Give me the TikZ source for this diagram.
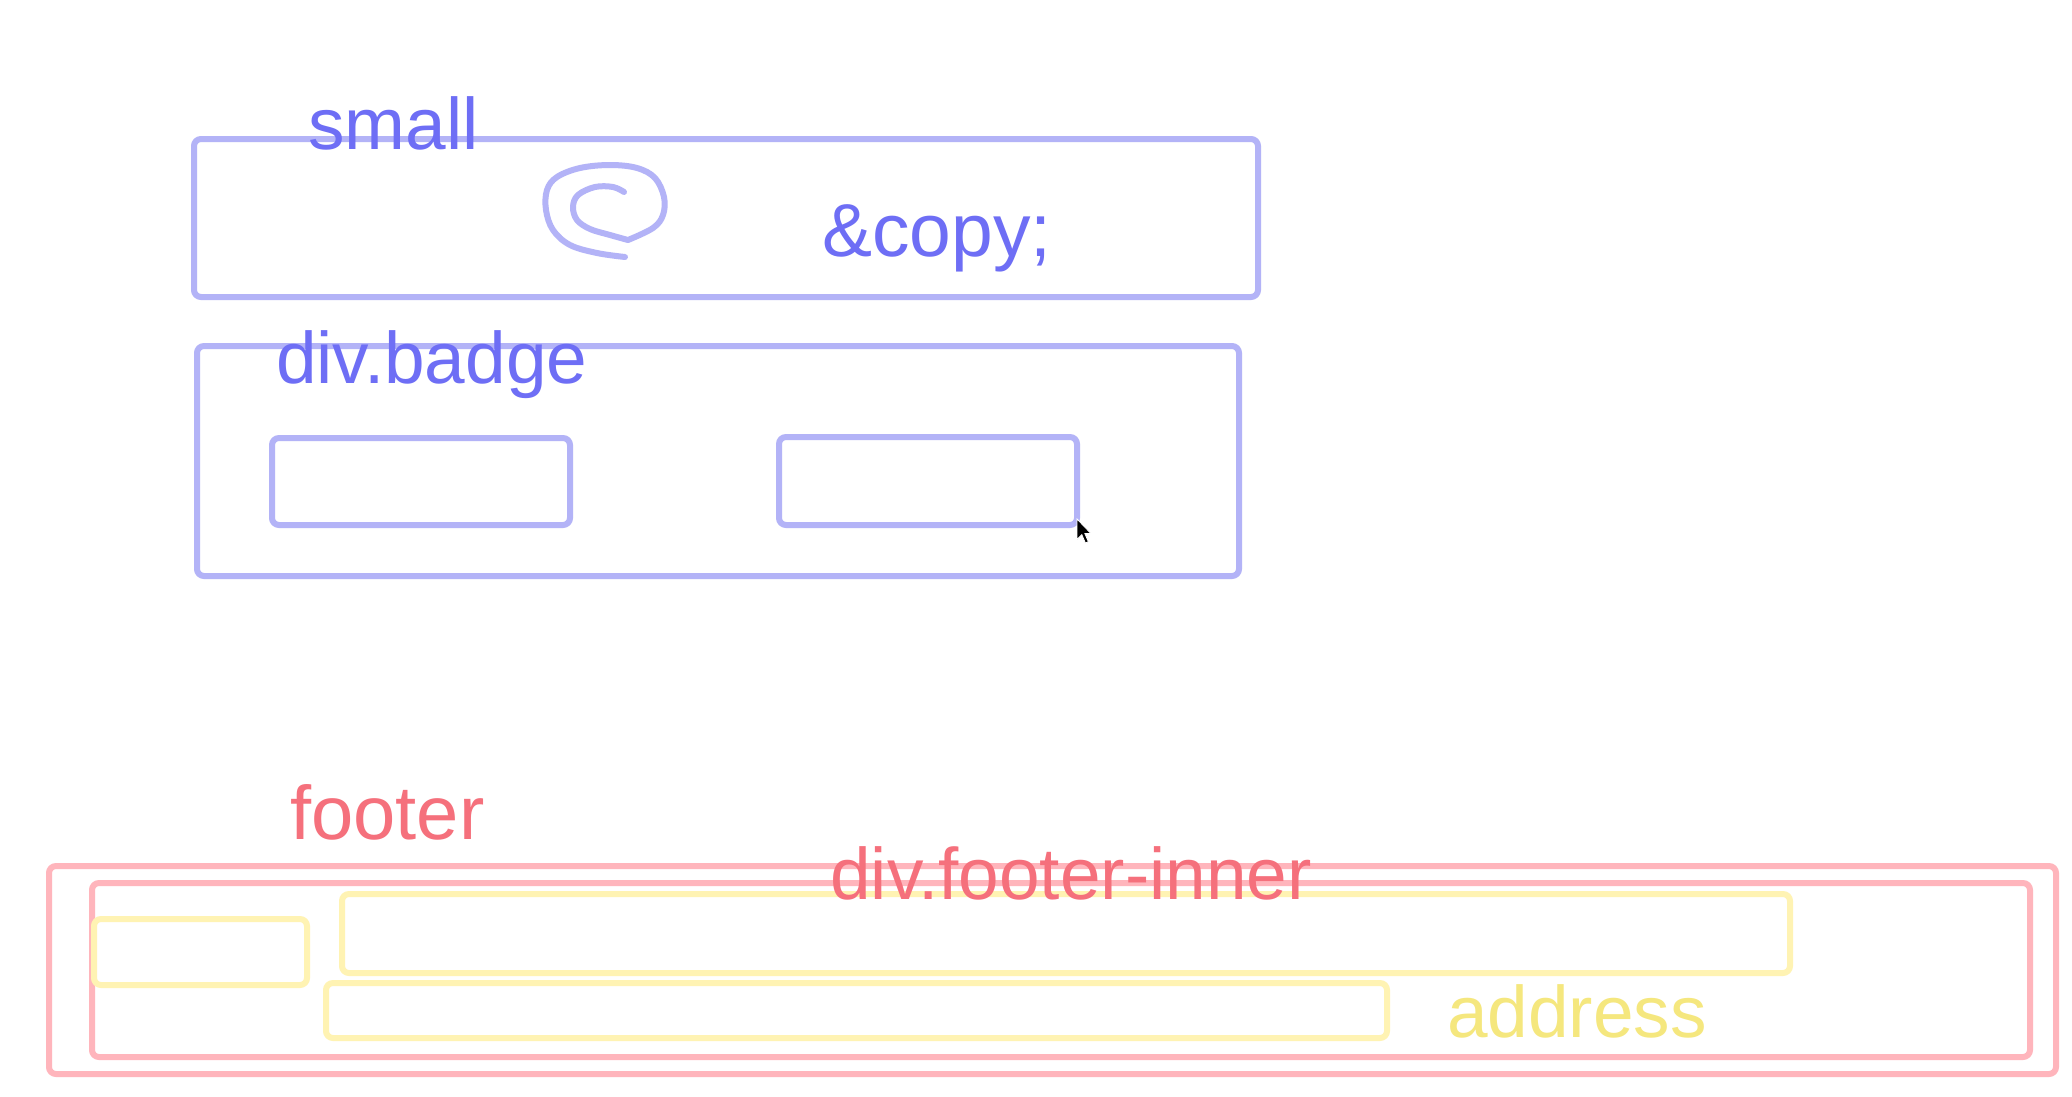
\documentclass[tikz,border=0pt]{standalone}
\usepackage{fontspec}
\setmainfont{Liberation Sans}
\begin{document}
\begin{tikzpicture}[x=1pt,y=-1pt,
  box/.style={draw,rounded corners=7pt,line width=6pt,inner sep=0pt,outer sep=0pt,anchor=north west},
  lbl/.style={font=\fontsize{73}{80}\selectfont,anchor=base west,inner sep=0pt}]
\definecolor{blueline}{HTML}{B3B3F7}
\definecolor{bluetext}{HTML}{6E6EF5}
\definecolor{redline}{HTML}{FFB5BC}
\definecolor{redtext}{HTML}{F5707C}
\definecolor{yelline}{HTML}{FFF3B3}
\definecolor{yeltext}{HTML}{F5E77E}
\fill[white] (0,0) rectangle (2072,1096);
\useasboundingbox (0,0) rectangle (2072,1096);
% small
\node[box,color=blueline,minimum width=1064pt,minimum height=158pt] (small) at (194,139) {};
\node[lbl,text=bluetext] (smalllbl) at (308,149) {small};
\node[lbl,text=bluetext,font=\fontsize{75}{80}\selectfont] (copy) at (822,256) {\&copy;};
\draw[blueline,line width=6pt,line cap=round,line join=round]
  plot[smooth,tension=0.6] coordinates {(625,257) (597,253) (570,245) (553,230) (546,210) (547,190) (557,177) (580,168) (610,165) (637,168) (655,178) (664,197) (663,215) (653,228) (628,240)}
  plot[smooth,tension=0.6] coordinates {(628,240) (610,235) (590,229) (577,220) (573,207) (578,195) (595,187) (613,187) (624,192)};
% div.badge
\node[box,color=blueline,minimum width=1042pt,minimum height=230pt] (badge) at (197,346) {};
\node[lbl,text=bluetext] (badgelbl) at (276,383) {div.badge};
\node[box,color=blueline,minimum width=298pt,minimum height=87pt] (b1) at (272,438) {};
\node[box,color=blueline,minimum width=298pt,minimum height=88pt] (b2) at (779,437) {};
% cursor
\coordinate (cur) at (1077,519);
\filldraw[black,draw=white,line width=0.8pt,shift={(cur)},scale=1.2]
  (0,0) -- (0,17) -- (4,13) -- (7,20) -- (9.5,19) -- (6.5,12) -- (11.5,12) -- cycle;
% footer
\node[box,color=redline,minimum width=2007pt,minimum height=208pt] (footer) at (49,866) {};
\node[box,color=redline,minimum width=1938pt,minimum height=174pt] (inner) at (92,883) {};
\node[box,color=yelline,minimum width=213pt,minimum height=66pt] (y1) at (94,919) {};
\node[box,color=yelline,minimum width=1448pt,minimum height=79pt] (y2) at (342,894) {};
\node[box,color=yelline,minimum width=1061pt,minimum height=55pt] (y3) at (326,983) {};
\node[lbl,text=redtext,font=\fontsize{76}{80}\selectfont] (footerlbl) at (290,839) {footer};
\node[lbl,text=redtext] (innerlbl) at (830,899) {div.footer-inner};
\node[lbl,text=yeltext] (addrlbl) at (1447,1037) {address};
\end{tikzpicture}
\end{document}
